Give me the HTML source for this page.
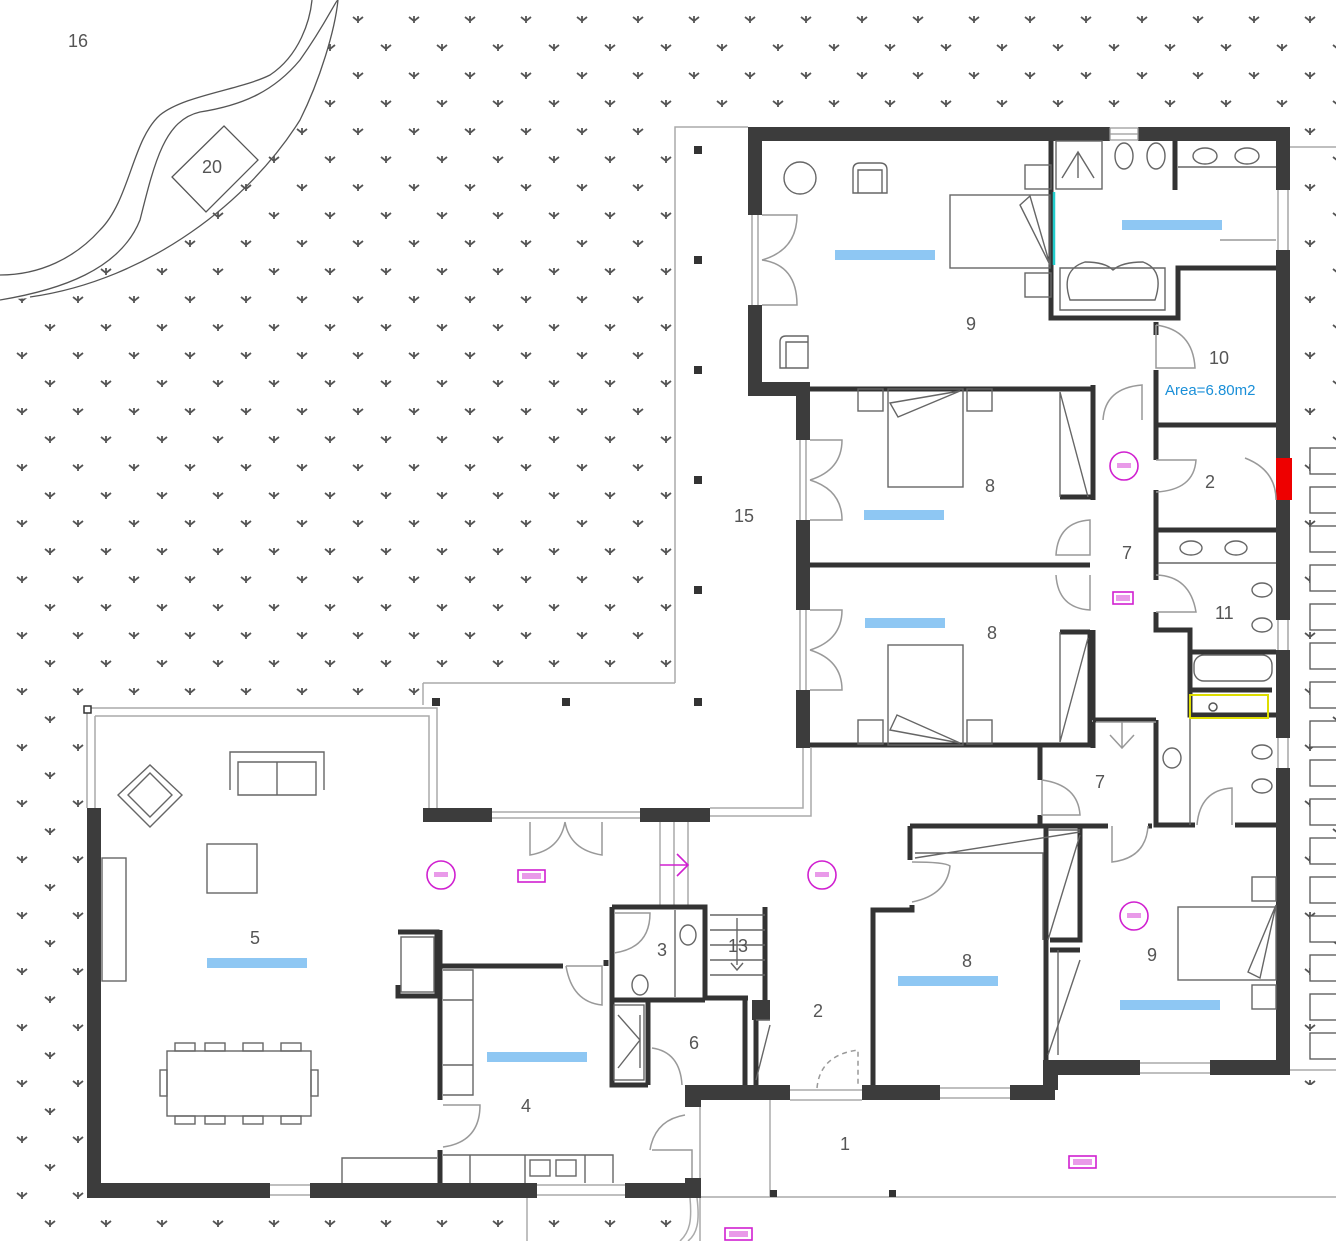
<!DOCTYPE html>
<html><head><meta charset="utf-8"><style>
html,body{margin:0;padding:0;background:#fff}
svg{display:block}
text{font-family:"Liberation Sans",sans-serif;fill:#555;font-size:18px}
</style></head><body>
<svg width="1336" height="1241" viewBox="0 0 1336 1241" xmlns="http://www.w3.org/2000/svg">
<defs>
<pattern id="g" patternUnits="userSpaceOnUse" width="56" height="56">
<path d="M17,17 L22,21 L27,17 M22,16 L22,23 M45,45 L50,49 L55,45 M50,44 L50,51" stroke="#555" stroke-width="1.8" fill="none"/>
</pattern>
</defs>
<rect width="1336" height="1241" fill="url(#g)"/>
<g fill="#fff">
<path d="M0,0 L340,0 C320,110 260,210 30,298 L0,300 Z"/>
<rect x="748" y="127" width="542" height="973"/>
<rect x="675" y="127" width="73" height="700"/>
<rect x="423" y="683" width="390" height="140"/>
<rect x="700" y="800" width="60" height="300"/>
<rect x="85" y="705" width="620" height="495"/>
<rect x="700" y="1085" width="636" height="156"/>
</g>
<g fill="none" stroke="#555" stroke-width="1.3">
<path d="M0,275 C40,275 75,258 100,230 C130,200 132,140 160,115 C185,95 240,90 270,75 C300,55 310,20 312,0"/>
<path d="M0,300 C60,290 120,270 140,220 C155,160 165,120 200,112 C245,105 275,90 300,60 C325,25 336,0 338,0"/>
<path d="M30,297 C150,280 250,200 300,120 C320,80 335,30 338,0"/>
<path d="M224,126 L258,160 L206,212 L172,177 Z"/>
</g>
<text x="68" y="47">16</text>
<text x="202" y="173">20</text>
<g fill="none" stroke="#aaa" stroke-width="1.5">
<path d="M675,683 L675,127 L748,127"/>
<path d="M423,683 L675,683"/>
<path d="M423,683 L423,705"/>
<path d="M87,708 L437,708 L437,810"/>
<path d="M95,716 L429,716 L429,810"/>
<path d="M87,708 L87,808 M95,716 L95,808"/>
<path d="M803,748 L803,808 L710,808 M811,748 L811,816 L710,816"/>
<path d="M492,812 L640,812 M492,818 L640,818"/>
<path d="M660,822 L660,907 M674,822 L674,907 M688,822 L688,907"/>
<path d="M700,1100 L700,1241 M700,1197 L1336,1197"/>
<path d="M770,1100 L770,1197"/>
<path d="M1290,147 L1336,147"/>
<path d="M1290,1070 L1336,1070"/>
<path d="M527,1198 L527,1241"/>
<path d="M690,1198 C692,1220 690,1232 680,1241 M697,1198 C700,1222 697,1234 688,1241"/>
</g>
<g fill="#333">
<rect x="694" y="146" width="8" height="8"/><rect x="694" y="256" width="8" height="8"/><rect x="694" y="366" width="8" height="8"/>
<rect x="694" y="476" width="8" height="8"/><rect x="694" y="586" width="8" height="8"/><rect x="694" y="698" width="8" height="8"/>
<rect x="562" y="698" width="8" height="8"/><rect x="432" y="698" width="8" height="8"/>
<rect x="770" y="1190" width="7" height="7"/><rect x="889" y="1190" width="7" height="7"/>
</g>
<rect x="84" y="706" width="7" height="7" fill="#fff" stroke="#333" stroke-width="1.5"/>
<g fill="#fff" stroke="#555" stroke-width="1.3">
<rect x="1310" y="448" width="30" height="26"/><rect x="1310" y="487" width="30" height="26"/><rect x="1310" y="526" width="30" height="26"/>
<rect x="1310" y="565" width="30" height="26"/><rect x="1310" y="604" width="30" height="26"/><rect x="1310" y="643" width="30" height="26"/>
<rect x="1310" y="682" width="30" height="26"/><rect x="1310" y="721" width="30" height="26"/><rect x="1310" y="760" width="30" height="26"/>
<rect x="1310" y="799" width="30" height="26"/><rect x="1310" y="838" width="30" height="26"/><rect x="1310" y="877" width="30" height="26"/>
<rect x="1310" y="916" width="30" height="26"/><rect x="1310" y="955" width="30" height="26"/><rect x="1310" y="994" width="30" height="26"/>
<rect x="1310" y="1033" width="30" height="26"/>
</g>
<g fill="#3c3c3c">
<rect x="748" y="127" width="362" height="14"/>
<rect x="1138" y="127" width="152" height="14"/>
<rect x="748" y="127" width="14" height="88"/>
<rect x="748" y="305" width="14" height="91"/>
<rect x="748" y="382" width="62" height="14"/>
<rect x="796" y="382" width="14" height="58"/>
<rect x="796" y="520" width="14" height="90"/>
<rect x="796" y="690" width="14" height="58"/>
<rect x="1276" y="127" width="14" height="63"/>
<rect x="1276" y="250" width="14" height="370"/>
<rect x="1276" y="650" width="14" height="88"/>
<rect x="1276" y="768" width="14" height="307"/>
<rect x="87" y="808" width="14" height="390"/>
<rect x="87" y="1183" width="183" height="15"/>
<rect x="310" y="1183" width="227" height="15"/>
<rect x="625" y="1183" width="75" height="15"/>
<rect x="423" y="808" width="69" height="14"/>
<rect x="640" y="808" width="70" height="14"/>
<rect x="685" y="1085" width="105" height="15"/>
<rect x="685" y="1085" width="16" height="22"/>
<rect x="685" y="1178" width="16" height="20"/>
<rect x="862" y="1085" width="78" height="15"/>
<rect x="1010" y="1085" width="45" height="15"/>
<rect x="1043" y="1060" width="97" height="15"/>
<rect x="1210" y="1060" width="80" height="15"/>
<rect x="1043" y="1060" width="15" height="30"/>
<rect x="1276" y="458" width="16" height="42" fill="#e00"/>
<rect x="752" y="1000" width="18" height="20"/>
</g>
<g stroke="#333" stroke-width="5" fill="none">
<path d="M810,389 L1093,389 L1093,500"/>
<path d="M810,565 L1090,565"/>
<path d="M810,745 L1090,745 L1090,630"/>
<path d="M1060,497 L1093,497 M1060,632 L1090,632"/>
<path d="M1051,141 L1051,318 L1178,318 L1178,268 L1276,268"/>
<path d="M1175,141 L1175,190"/>
<path d="M1156,322 L1156,335 M1156,370 L1156,460 M1156,490 L1156,580 M1156,612 L1156,630 L1190,630 L1190,715 L1276,715"/>
<path d="M1156,425 L1276,425 M1156,530 L1276,530"/>
<path d="M1156,720 L1156,825 L1195,825 M1235,825 L1276,825"/>
<path d="M1190,652 L1276,652 M1190,690 L1272,690"/>
<path d="M1093,385 L1093,395 M1093,630 L1093,720 M1040,745 L1040,780 M1040,815 L1040,826"/>
<path d="M1093,722 L1093,748 M1156,720 L1093,720"/>
<path d="M1080,826 L1108,826 M1148,826 L1152,826"/>
<path d="M910,826 L1080,826 M910,826 L910,860 M1046,826 L1046,1060"/>
<path d="M873,1085 L873,910 L912,910 L912,905"/>
<path d="M1080,826 L1080,940 L1050,940 M1050,950 L1080,950"/>
<path d="M440,930 L440,1100 M440,1150 L440,1183"/>
<path d="M398,932 L437,932 L437,996 L398,996 L398,985"/>
<path d="M440,966 L563,966"/>
<path d="M606,966 L606,960 M612,907 L705,907 L705,1000 M612,907 L612,1000 L705,1000"/>
<path d="M765,907 L765,1000 M705,998 L748,998"/>
<path d="M648,1000 L648,1085 M612,1000 L612,1085 L648,1085 M745,1000 L745,1085 M756,1020 L756,1085"/>
</g>
<g stroke="#999" stroke-width="1.3" fill="none">
<path d="M752,215 L752,305 M758,215 L758,305"/>
<path d="M800,440 L800,520 M806,440 L806,520 M800,610 L800,690 M806,610 L806,690"/>
<path d="M1110,128 L1138,128 L1138,140 L1110,140 Z M1110,134 L1138,134"/>
<path d="M1278,190 L1278,250 M1288,190 L1288,250 M1278,620 L1278,650 M1288,620 L1288,650 M1278,738 L1278,768 M1288,738 L1288,768"/>
<path d="M270,1185 L310,1185 M270,1195 L310,1195 M537,1185 L625,1185 M537,1195 L625,1195"/>
<path d="M790,1090 L862,1090 M790,1100 L862,1100 M940,1088 L1010,1088 M940,1098 L1010,1098 M1140,1063 L1210,1063 M1140,1073 L1210,1073"/>
</g>
<g stroke="#999" stroke-width="1.5" fill="none">
<path d="M762,215 L797,215 Q797,250 762,260 M762,305 L797,305 Q797,265 762,260"/>
<path d="M810,440 L842,440 Q842,470 810,480 M810,520 L842,520 Q842,490 810,480"/>
<path d="M810,610 L842,610 Q842,640 810,650 M810,690 L842,690 Q842,660 810,650"/>
<path d="M530,822 L530,855 Q560,850 565,822 M602,822 L602,855 Q570,850 565,822"/>
<path d="M1156,325 L1156,368 L1195,368 Q1193,330 1156,325"/>
<path d="M1103,420 Q1105,388 1142,385 L1142,420"/>
<path d="M1056,555 Q1058,522 1090,520 L1090,555 Z"/>
<path d="M1056,575 Q1058,608 1090,610 L1090,575"/>
<path d="M1156,460 L1196,460 Q1194,490 1156,492"/>
<path d="M1156,575 Q1190,576 1196,612 L1156,612"/>
<path d="M1245,458 Q1276,470 1276,500"/>
<path d="M1042,780 L1042,815 L1080,815 Q1078,785 1042,780"/>
<path d="M1112,826 L1112,862 Q1146,858 1148,826"/>
<path d="M1197,825 Q1200,790 1232,788 L1232,825"/>
<path d="M1096,722 L1156,722 M1110,735 L1122,748 L1134,735 M1122,722 L1122,748"/>
<path d="M912,862 Q945,862 950,866 Q947,895 912,902"/>
<path d="M614,913 L650,913 Q650,948 614,953"/>
<path d="M566,966 L602,966 L602,1005 Q572,1002 566,966"/>
<path d="M443,1105 L480,1105 Q480,1142 443,1147"/>
<path d="M652,1048 Q680,1052 682,1085"/>
<path d="M650,1150 Q655,1120 685,1115 M652,1150 L692,1150 L692,1178"/>
<path d="M817,1088 Q820,1055 858,1050 L858,1085" stroke-dasharray="5,4"/>
<path d="M1220,240 L1276,240"/>
</g>
<g stroke="#666" stroke-width="1.4" fill="none">
<circle cx="800" cy="178" r="16"/>
<path d="M853,193 L853,170 Q853,163 860,163 L880,163 Q887,163 887,170 L887,193 Z M858,193 L858,170 L882,170 L882,193"/>
<path d="M780,368 L780,342 Q780,336 786,336 L808,336 L808,368 Z M786,368 L786,342 L808,342"/>
<rect x="950" y="195" width="100" height="73"/>
<rect x="1025" y="165" width="26" height="24"/><rect x="1025" y="273" width="26" height="24"/>
<path d="M1020,205 L1030,196 L1050,265 Z"/>
<rect x="1056" y="141" width="46" height="48"/>
<path d="M1062,178 L1078,152 L1094,178 M1078,152 L1078,178"/>
<ellipse cx="1124" cy="156" rx="9" ry="13"/><ellipse cx="1156" cy="156" rx="9" ry="13"/>
<path d="M1178,167 L1276,167"/>
<ellipse cx="1205" cy="156" rx="12" ry="8"/><ellipse cx="1247" cy="156" rx="12" ry="8"/>
<path d="M1060,268 L1165,268 L1165,310 L1060,310 Z"/>
<path d="M1070,300 Q1060,270 1085,262 Q1105,262 1113,270 Q1122,262 1143,262 Q1165,270 1155,300 Z"/>
<path d="M1054,192 L1054,265" stroke="#2cc" stroke-width="2.5"/>
<rect x="858" y="389" width="25" height="22"/><rect x="967" y="389" width="25" height="22"/>
<rect x="888" y="389" width="75" height="98"/>
<path d="M890,403 L960,391 L898,417 Z"/>
<path d="M1060,392 L1060,497 M1060,392 L1088,497"/>
<rect x="858" y="720" width="25" height="24"/><rect x="967" y="720" width="25" height="24"/>
<rect x="888" y="645" width="75" height="100"/>
<path d="M890,730 L960,743 L897,715 Z"/>
<path d="M1060,632 L1060,742 M1060,742 L1088,638"/>
<ellipse cx="1191" cy="548" rx="11" ry="7"/><ellipse cx="1236" cy="548" rx="11" ry="7"/>
<path d="M1158,563 L1276,563"/>
<ellipse cx="1262" cy="590" rx="10" ry="7"/><ellipse cx="1262" cy="625" rx="10" ry="7"/>
<rect x="1194" y="655" width="78" height="26" rx="10"/>
<ellipse cx="1262" cy="752" rx="10" ry="7"/><ellipse cx="1262" cy="786" rx="10" ry="7"/>
<ellipse cx="1172" cy="758" rx="9" ry="10"/>
<path d="M1190,715 L1190,825"/>
<rect x="1252" y="877" width="24" height="24"/><rect x="1252" y="985" width="24" height="24"/>
<rect x="1178" y="907" width="98" height="73"/>
<path d="M1248,972 L1260,978 L1276,905 Z"/>
<path d="M1048,830 L1080,830 M1048,940 L1080,835 M1048,1055 L1080,960 M915,858 L1080,832 M915,853 L1043,853 L1043,940"/>
<path d="M1058,950 L1058,1055"/>
<path d="M118,795 L150,765 L182,795 L150,827 Z M128,795 L150,773 L172,795 L150,817 Z" />
<path d="M230,790 L230,752 L324,752 L324,790 M238,795 L238,762 L316,762 L316,795 Z M277,762 L277,795"/>
<rect x="207" y="844" width="50" height="49"/>
<rect x="102" y="858" width="24" height="123"/>
<rect x="167" y="1051" width="144" height="65"/>
<rect x="175" y="1043" width="20" height="8"/><rect x="205" y="1043" width="20" height="8"/><rect x="243" y="1043" width="20" height="8"/><rect x="281" y="1043" width="20" height="8"/>
<rect x="175" y="1116" width="20" height="8"/><rect x="205" y="1116" width="20" height="8"/><rect x="243" y="1116" width="20" height="8"/><rect x="281" y="1116" width="20" height="8"/>
<rect x="160" y="1070" width="7" height="26"/><rect x="311" y="1070" width="7" height="26"/>
<rect x="401" y="937" width="33" height="55"/>
<path d="M342,1183 L342,1158 L437,1158"/>
<path d="M443,970 L473,970 L473,1095 L443,1095 M443,1000 L473,1000 M443,1065 L473,1065"/>
<path d="M443,1155 L613,1155 L613,1183 M470,1155 L470,1183 M525,1155 L525,1183 M585,1155 L585,1183"/>
<rect x="530" y="1160" width="20" height="16"/><rect x="556" y="1160" width="20" height="16"/>
<path d="M675,910 L675,997"/>
<ellipse cx="688" cy="935" rx="8" ry="10"/><ellipse cx="640" cy="985" rx="8" ry="10"/>
<rect x="614" y="1005" width="30" height="75"/><path d="M618,1015 L640,1040 L618,1068 M640,1015 L640,1068"/>
<path d="M710,915 L765,915 M710,930 L765,930 M710,945 L765,945 M710,960 L765,960 M710,975 L765,975 M737,918 L737,965 M731,963 L737,970 L743,963"/>
<path d="M756,1020 L770,1020 M756,1080 L770,1025"/>
</g>
<path d="M1190,695 L1268,695 L1268,718 L1190,718 Z" fill="none" stroke="#dd0" stroke-width="2"/>
<circle cx="1213" cy="707" r="4" fill="none" stroke="#555" stroke-width="1.5"/>
<g fill="#8ec7f3">
<rect x="835" y="250" width="100" height="10"/>
<rect x="1122" y="220" width="100" height="10"/>
<rect x="864" y="510" width="80" height="10"/>
<rect x="865" y="618" width="80" height="10"/>
<rect x="207" y="958" width="100" height="10"/>
<rect x="487" y="1052" width="100" height="10"/>
<rect x="898" y="976" width="100" height="10"/>
<rect x="1120" y="1000" width="100" height="10"/>
</g>
<g stroke="#d020d0" stroke-width="1.6" fill="none">
<circle cx="441" cy="875" r="14"/><circle cx="822" cy="875" r="14"/><circle cx="1124" cy="466" r="14"/><circle cx="1134" cy="916" r="14"/>
<rect x="518" y="870" width="27" height="12"/><rect x="1113" y="592" width="20" height="12"/><rect x="1069" y="1156" width="27" height="12"/><rect x="725" y="1228" width="27" height="12"/>
<path d="M660,865 L688,865 M677,854 L688,865 L677,876"/>
</g>
<g fill="#e99ae9">
<rect x="434" y="872" width="14" height="5"/><rect x="815" y="872" width="14" height="5"/><rect x="1117" y="463" width="14" height="5"/><rect x="1127" y="913" width="14" height="5"/>
<rect x="522" y="873" width="19" height="6"/><rect x="1116" y="595" width="14" height="6"/><rect x="1073" y="1159" width="19" height="6"/><rect x="729" y="1231" width="19" height="6"/>
</g>
<text x="966" y="330">9</text>
<text x="1209" y="364">10</text>
<text x="1165" y="395" style="fill:#1a8fd8;font-size:15px">Area=6.80m2</text>
<text x="985" y="492">8</text>
<text x="1205" y="488">2</text>
<text x="1122" y="559">7</text>
<text x="987" y="639">8</text>
<text x="1215" y="619">11</text>
<text x="1095" y="788">7</text>
<text x="734" y="522">15</text>
<text x="250" y="944">5</text>
<text x="657" y="956">3</text>
<text x="728" y="952">13</text>
<text x="1147" y="961">9</text>
<text x="962" y="967">8</text>
<text x="813" y="1017">2</text>
<text x="689" y="1049">6</text>
<text x="521" y="1112">4</text>
<text x="840" y="1150">1</text>
</svg>
</body></html>
